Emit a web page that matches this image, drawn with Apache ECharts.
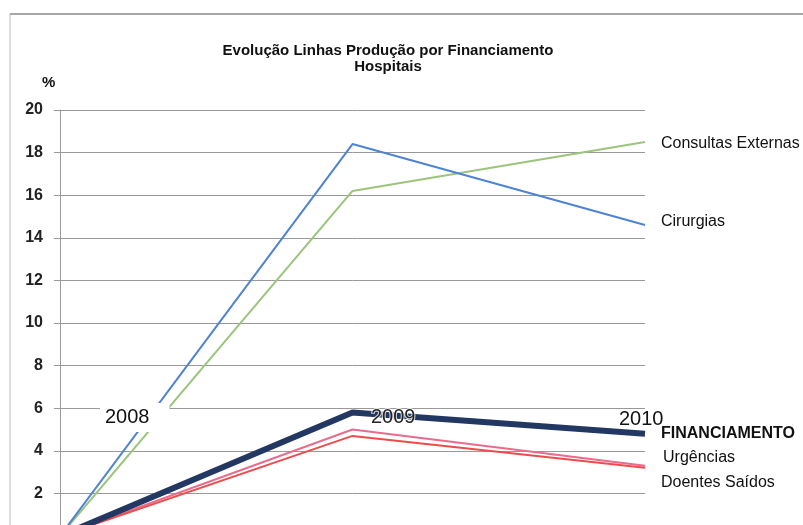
<!DOCTYPE html>
<html>
<head>
<meta charset="utf-8">
<script src="https://cdn.jsdelivr.net/npm/echarts@6/dist/echarts.min.js"></script>
<style>
  html, body { margin: 0; padding: 0; background: #fff; }
  #chart { width: 803px; height: 525px; }
</style>
</head>
<body>
<div id="chart"></div>
<script>
// dados
const anos = ['2008', '2009', '2010'];
const cirurgias = [0, 18.4, 14.6];
const consultasExternas = [0, 16.2, 18.5];
const financiamento = [0, 5.8, 4.8];
const urgencias = [0, 5.0, 3.3];
const doentesSaidos = [0, 4.7, 3.2];
const yTicks = [0, 20, 2];

const chart = echarts.init(document.getElementById('chart'), null, { renderer: 'canvas' });

const font = 'Liberation Sans, Arial, sans-serif';

function linha(nome, dados, cor, largura, labelOpts) {
    return {
        name: nome,
        type: 'line',
        data: dados,
        symbol: 'none',
        lineStyle: { color: cor, width: largura },
        itemStyle: { color: cor },
        z: largura > 3 ? 3 : 2,
        endLabel: Object.assign({
            show: true,
            formatter: nome,
            color: '#111',
            fontFamily: font,
            fontSize: 16,
            distance: 16
        }, labelOpts || {})
    };
}

const option = {
    animation: false,
    backgroundColor: '#fff',
    title: {
        text: 'Evolução Linhas Produção por Financiamento\nHospitais',
        left: 383,
        top: 38,
        textAlign: 'center',
        textStyle: { fontFamily: font, fontSize: 15, fontWeight: 'bold', color: '#111', lineHeight: 16 }
    },
    grid: { left: 60, right: 158, top: 110, bottom: -11, outerBoundsMode: 'none' },
    xAxis: {
        type: 'category',
        data: anos,
        boundaryGap: false,
        axisLine: { show: false },
        axisTick: { show: false },
        axisLabel: { show: false }
    },
    yAxis: {
        type: 'value',
        min: yTicks[0],
        max: yTicks[1],
        interval: yTicks[2],
        axisLine: { show: true, lineStyle: { color: '#999', width: 1 } },
        axisTick: { show: true, length: 6, lineStyle: { color: '#999' } },
        axisLabel: { fontFamily: font, fontSize: 16, fontWeight: 'bold', color: '#222', margin: 17 },
        splitLine: { show: true, lineStyle: { color: '#999', width: 1 } }
    },
    series: [
        linha('Consultas Externas', consultasExternas, '#9cc47c', 2, { offset: [0, 2] }),
        linha('Cirurgias', cirurgias, '#4f83d3', 2, { offset: [0, -3] }),
        linha('FINANCIAMENTO', financiamento, '#223863', 6, { fontWeight: 'bold' }),
        linha('Urgências', urgencias, '#ea6b8c', 2, { offset: [2, -8] }),
        linha('Doentes Saídos', doentesSaidos, '#ee4c4c', 2, { offset: [0, 15] })
    ],
    graphic: [
        { type: 'line', shape: { x1: 10, y1: 14, x2: 803, y2: 14 }, style: { stroke: '#888', lineWidth: 1.5 } },
        { type: 'line', shape: { x1: 10, y1: 14, x2: 10, y2: 525 }, style: { stroke: '#bbb', lineWidth: 1 } },
        { type: 'text', left: 42, top: 75, style: { text: '%', font: 'bold 15px ' + font, fill: '#111' } },
        {
            type: 'text', left: 100, top: 403, z: 10,
            style: { text: '2008', font: '20px ' + font, fill: '#111', backgroundColor: '#fff', padding: [4, 20, 5, 5] }
        },
        {
            type: 'text', left: 370, top: 406, z: 10,
            style: { text: '2009', font: '20px ' + font, fill: '#222', stroke: 'rgba(255,255,255,0.8)', lineWidth: 2 }
        },
        {
            type: 'text', left: 619, top: 409, z: 10,
            style: { text: '2010', font: '20px ' + font, fill: '#111' }
        }
    ]
};

chart.setOption(option);
</script>
</body>
</html>
